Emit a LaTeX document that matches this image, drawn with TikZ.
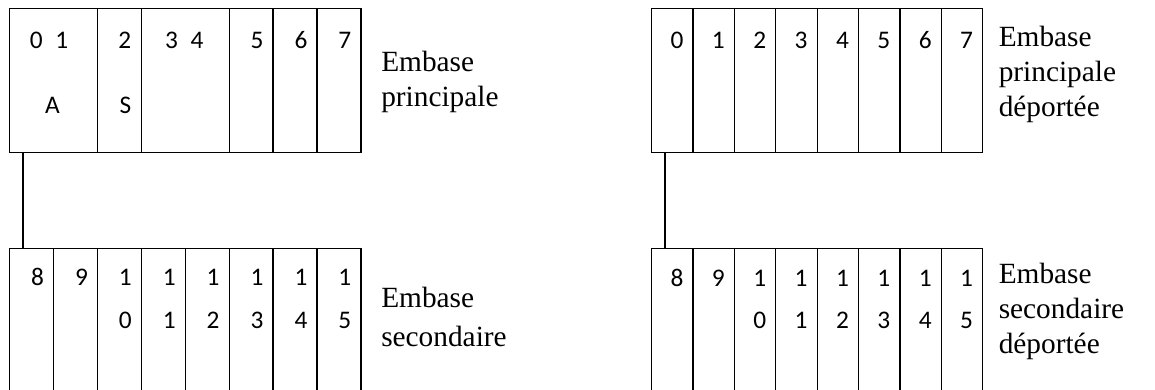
\documentclass[tikz,border=0pt]{standalone}
\usepackage{fontspec}
\setmainfont{Liberation Serif}
\newfontfamily\calibri{Carlito}
\tikzset{
	slot/.style={draw, line width=1pt, inner sep=0pt, anchor=north west, minimum height=#1},
	digit/.style={font=\calibri\fontsize{19pt}{22pt}\selectfont, inner sep=0pt, anchor=base east},
	embase/.style={align=left, inner sep=0pt, anchor=base west, font=\fontsize{22pt}{26.25pt}\selectfont}
}
\begin{document}
\begin{tikzpicture}[x=0.75pt, y=-0.75pt]
	\useasboundingbox (0,0) rectangle (1155,389);
	\clip (0,0) rectangle (1155,389);
	% slot widths (px)
	\def\wl {43.9};
	\def\wr {41.375};
	% main base: x position / width of each slot
	\def\mainslots { 9/87.8, 96.8/43.9, 140.7/87.8, 228.5/43.9, 272.4/43.9, 316.3/43.9 };
	% draw slots
	\foreach \x/\w [count=\index] in \mainslots
	{
		\node[slot=108pt, minimum width=\w*0.75pt] (p_\index) at (\x,8) {};
	}
	\foreach \index in {1,...,8}
	{
		\node[slot=120pt, minimum width=\wl*0.75pt] (s_\index) at ({9+\wl*(\index-1)},248) {};
		\node[slot=108pt, minimum width=\wr*0.75pt] (pd_\index) at ({651+\wr*(\index-1)},8) {};
		\node[slot=120pt, minimum width=\wr*0.75pt] (sd_\index) at ({651+\wr*(\index-1)},248) {};
	}
	% numbers of the main base
	\node[digit, anchor=base] (n_01) at ([shift={(40,40)}]p_1.north west) {0\enspace 1};
	\node[digit, anchor=base] (n_A) at ([shift={(43.5,105)}]p_1.north west) {A};
	\node[digit] (n_2) at ([shift={(-10.5,40)}]p_2.north east) {2};
	\node[digit] (n_S) at ([shift={(-10.5,105)}]p_2.north east) {S};
	\node[digit, anchor=base] (n_34) at ([shift={(43.5,40)}]p_3.north west) {3\enspace 4};
	\foreach \label/\index in {5/4, 6/5, 7/6}
	{
		\node[digit] (n_\label) at ([shift={(-10,40)}]p_\index.north east) {\label};
	}
	% numbers of the remote main base
	\foreach \label [count=\index] in {0,...,7}
	{
		\node[digit] (nd_\label) at ([shift={(-10,40)}]pd_\index.north east) {\label};
	}
	% numbers of both secondary bases, written on two lines
	\foreach \label [count=\index] in {8,9,1,1,1,1,1,1}
	{
		\node[digit] (m_\index) at ([shift={(-10,37.5)}]s_\index.north east) {\label};
		\node[digit] (md_\index) at ([shift={(-10,38)}]sd_\index.north east) {\label};
	}
	\foreach \label [count=\index from 3] in {0,...,5}
	{
		\node[digit] (mm_\index) at ([shift={(-10,80)}]s_\index.north east) {\label};
		\node[digit] (mmd_\index) at ([shift={(-10,80)}]sd_\index.north east) {\label};
	}
	% captions (anchored on the baseline of their last line)
	\node[embase] (c_p) at (381,106) {Embase\\principale};
	\node[embase, font=\fontsize{22pt}{29.25pt}\selectfont] (c_s) at (381,346.7) {Embase\\secondaire};
	\node[embase] (c_pd) at (998.5,116) {Embase\\principale\\déportée};
	\node[embase] (c_sd) at (998.5,353.3) {Embase\\secondaire\\déportée};
	% links
	\draw[line width=1pt] ([shift={(14,0)}]p_1.south west) -- ([shift={(14,0)}]s_1.north west);
	\draw[line width=1pt] ([shift={(14,0)}]pd_1.south west) -- ([shift={(14,0)}]sd_1.north west);
\end{tikzpicture}
\end{document}
